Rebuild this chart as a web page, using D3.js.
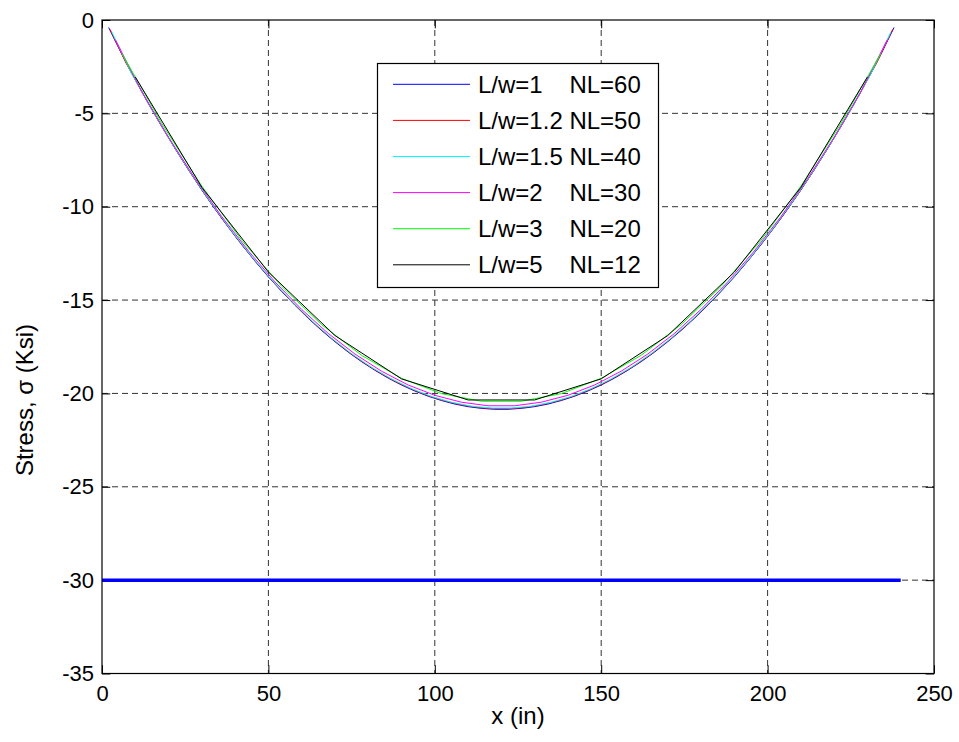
<!DOCTYPE html>
<html>
  <head>
    <meta charset="utf-8">
    <script src="https://d3js.org/d3.v7.min.js"></script>
    <style>
      body { margin: 0; background: white; }
      svg { font-family: "Liberation Sans", Arial, Helvetica, sans-serif; }
      .tick line { stroke: black; }
      .grid line { stroke: #333; stroke-dasharray: 6,4; }
    </style>
  </head>
  <body>
    <svg id="chart" width="959" height="742"></svg>
    <script>
      // beam span and element counts (elements are plotted at their midpoints)
      var span = 240;
      var labels = ['L/w=1    NL=60', 'L/w=1.2 NL=50', 'L/w=1.5 NL=40', 'L/w=2    NL=30', 'L/w=3    NL=20', 'L/w=5    NL=12'];
      var colors = ['#0000ff', '#ff0000', '#00ffff', '#ff00ff', '#00ff00', '#000000'];
      var nl = [60, 50, 40, 30, 20, 12];

      // stress per element (Ksi)
      var s60 = [-0.40, -1.85, -3.20, -4.50, -5.72, -6.90, -8.03, -9.11, -10.14, -11.11, -12.04, -12.92, -13.76, -14.54, -15.28,
                 -15.98, -16.63, -17.23, -17.79, -18.30, -18.76, -19.18, -19.55, -19.87, -20.15, -20.38, -20.57, -20.71, -20.80, -20.85,
                 -20.85, -20.80, -20.71, -20.57, -20.38, -20.15, -19.87, -19.55, -19.18, -18.76, -18.30, -17.79, -17.23, -16.63, -15.98,
                 -15.28, -14.54, -13.76, -12.92, -12.04, -11.11, -10.14, -9.11, -8.03, -6.90, -5.72, -4.50, -3.20, -1.85, -0.40];
      var s50 = [-0.50, -2.30, -3.85, -5.35, -6.78, -8.13, -9.41, -10.62, -11.75, -12.82, -13.82, -14.75, -15.62, -16.42, -17.15,
                 -17.82, -18.42, -18.95, -19.42, -19.81, -20.15, -20.41, -20.61, -20.75, -20.81,
                 -20.81, -20.75, -20.61, -20.41, -20.15, -19.81, -19.42, -18.95, -18.42, -17.82, -17.15, -16.42, -15.62, -14.75, -13.82,
                 -12.82, -11.75, -10.62, -9.41, -8.13, -6.78, -5.35, -3.85, -2.30, -0.50];
      var s40 = [-0.65, -2.90, -4.80, -6.60, -8.28, -9.85, -11.31, -12.67, -13.92, -15.06, -16.10, -17.04, -17.87, -18.60, -19.22,
                 -19.74, -20.16, -20.47, -20.68, -20.78,
                 -20.78, -20.68, -20.47, -20.16, -19.74, -19.22, -18.60, -17.87, -17.04, -16.10, -15.06, -13.92, -12.67, -11.31, -9.85,
                 -8.28, -6.60, -4.80, -2.90, -0.65];
      var s30 = [-1.05, -3.85, -6.28, -8.50, -10.53, -12.37, -14.03, -15.50, -16.79, -17.89, -18.81, -19.55, -20.10, -20.47, -20.66,
                 -20.66, -20.47, -20.10, -19.55, -18.81, -17.89, -16.79, -15.50, -14.03, -12.37, -10.53, -8.50, -6.28, -3.85, -1.05];
      var s20 = [-1.80, -5.55, -8.90, -11.80, -14.27, -16.32, -17.96, -19.19, -20.01, -20.42,
                 -20.42, -20.01, -19.19, -17.96, -16.32, -14.27, -11.80, -8.90, -5.55, -1.80];
      var s12 = [-3.05, -8.96, -13.50, -16.90, -19.22, -20.35, -20.35, -19.22, -16.90, -13.50, -8.96, -3.05];
      var stress = [s60, s50, s40, s30, s20, s12];

      // allowable stress line
      var limitX = [0, 240];
      var limitY = -30;

      var xTicks = [0, 50, 100, 150, 200, 250];
      var yTicks = [0, -5, -10, -15, -20, -25, -30, -35];

      var svg = d3.select('#chart');
      var pL = 102, pR = 934, pT = 20, pB = 673.5;
      var x = d3.scaleLinear().domain([0, 250]).range([pL, pR]);
      var y = d3.scaleLinear().domain([-35, 0]).range([pB, pT]);
      var tl = 8.3;

      svg.append('rect').attr('width', 959).attr('height', 742).attr('fill', 'white');

      // grid
      var grid = svg.append('g').attr('class', 'grid');
      grid.selectAll('.gx').data(xTicks.slice(1, -1)).enter().append('line')
        .attr('x1', d => x(d)).attr('x2', d => x(d)).attr('y1', pT).attr('y2', pB);
      grid.selectAll('.gy').data(yTicks.slice(1, -1)).enter().append('line')
        .attr('y1', d => y(d)).attr('y2', d => y(d)).attr('x1', pL).attr('x2', pR);

      // axes, ticks pointing inwards like matlab
      var gx = svg.append('g').attr('transform', `translate(0,${pB})`)
        .call(d3.axisBottom(x).tickValues(xTicks).tickSizeInner(-tl).tickSizeOuter(0).tickPadding(12));
      svg.append('g').attr('transform', `translate(0,${pT})`)
        .call(d3.axisTop(x).tickValues(xTicks).tickSizeInner(-tl).tickSizeOuter(0).tickFormat(''));
      var gy = svg.append('g').attr('transform', `translate(${pL},0)`)
        .call(d3.axisLeft(y).tickValues(yTicks).tickSizeInner(-tl).tickSizeOuter(0).tickPadding(8));
      svg.append('g').attr('transform', `translate(${pR},0)`)
        .call(d3.axisRight(y).tickValues(yTicks).tickSizeInner(-tl).tickSizeOuter(0).tickFormat(''));
      svg.selectAll('.domain').remove();
      svg.selectAll('.tick text').attr('font-size', 22).attr('fill', 'black').attr('font-family', null);
      gx.selectAll('.tick text').attr('dy', '0.71em');
      gy.selectAll('.tick text').text(d => d === 0 ? '0' : '-' + Math.abs(d));

      // curves
      var line = d3.line().x(d => x(d[0])).y(d => y(d[1]));
      stress.forEach(function(vals, k) {
        var h = span / nl[k];
        var pts = vals.map((v, i) => [(i + 0.5) * h, v]);
        svg.append('path').attr('d', line(pts)).attr('fill', 'none')
          .attr('stroke', colors[k]).attr('stroke-width', 1);
      });

      svg.append('line')
        .attr('x1', x(limitX[0])).attr('x2', x(limitX[1]))
        .attr('y1', y(limitY)).attr('y2', y(limitY))
        .attr('stroke', '#0000ff').attr('stroke-width', 3.5);

      // box
      svg.append('rect').attr('x', pL).attr('y', pT)
        .attr('width', pR - pL).attr('height', pB - pT)
        .attr('fill', 'none').attr('stroke', 'black').attr('stroke-width', 1.2);

      // legend
      var lg = svg.append('g');
      lg.append('rect').attr('x', 377.5).attr('y', 63.5).attr('width', 281).attr('height', 224)
        .attr('fill', 'white').attr('stroke', 'black').attr('stroke-width', 1.2);
      labels.forEach(function(t, i) {
        var cy = 84.3 + i * 36.1;
        lg.append('line').attr('x1', 393).attr('x2', 470).attr('y1', cy).attr('y2', cy)
          .attr('stroke', colors[i]).attr('stroke-width', 1);
        lg.append('text').attr('x', 478).attr('y', cy + 8.6).attr('font-size', 24)
          .style('white-space', 'pre').text(t);
      });

      // axis labels
      svg.append('text').attr('x', (pL + pR) / 2).attr('y', 724)
        .attr('text-anchor', 'middle').attr('font-size', 24).text('x (in)');
      svg.append('text').attr('transform', 'translate(33,400) rotate(-90)')
        .attr('text-anchor', 'middle').attr('font-size', 24).text('Stress, \u03c3 (Ksi)');
    </script>
  </body>
</html>
